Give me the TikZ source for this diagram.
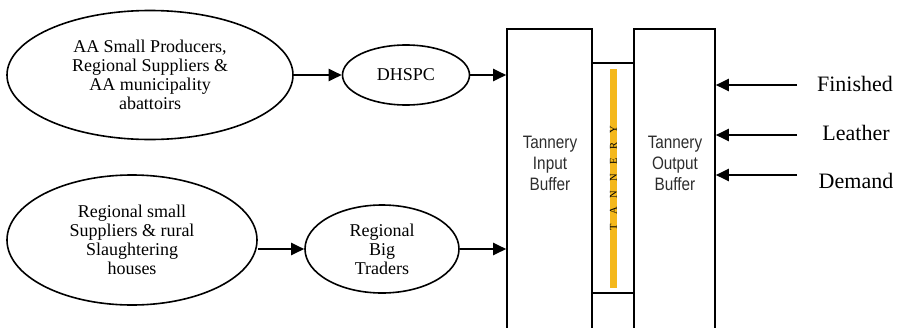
\documentclass[tikz,border=0pt]{standalone}
\usepackage{fontspec}
\setmainfont{Liberation Serif}
\newfontfamily\boxfont[FakeStretch=0.85]{Liberation Sans}
\usetikzlibrary{shapes.geometric,arrows.meta}
\definecolor{barorange}{RGB}{244,184,28}
\definecolor{boxtext}{RGB}{45,45,45}
\tikzset{
  srcell/.style={ellipse,draw,line width=1.6pt,inner sep=0pt,align=center,
    font=\fontsize{18}{19}\selectfont},
  bufbox/.style={rectangle,draw,line width=1.6pt,inner sep=0pt},
  buftext/.style={align=center,text=boxtext,font=\fontsize{18}{21}\boxfont},
  demandlbl/.style={font=\fontsize{22}{24}\selectfont},
  arr/.style={line width=2.4pt,-{Triangle[length=13pt,width=12pt]}},
}
\begin{document}
\begin{tikzpicture}[x=1pt,y=-1pt]
\useasboundingbox (0,0) rectangle (903,327);

% supplier ellipses
\node[srcell,minimum width=286,minimum height=129] (aa) at (150,75)
  {AA Small Producers,\\Regional Suppliers \&\\AA municipality\\abattoirs};
\node[srcell,minimum width=127,minimum height=60] (dh) at (406,75) {DHSPC};
\node[srcell,minimum width=250,minimum height=130] (rs) at (132,240)
  {Regional small\\Suppliers \& rural\\Slaughtering\\houses};
\node[srcell,minimum width=154,minimum height=88] (bt) at (382,249)
  {Regional\\Big\\Traders};

% tannery blocks
\node[bufbox,minimum width=85,minimum height=320] (inbuf) at (549.5,189) {};
\node[bufbox,minimum width=42,minimum height=230] (tan) at (613,178) {};
\node[bufbox,minimum width=81,minimum height=320] (outbuf) at (674.5,189) {};
\fill[barorange] (610,69) rectangle (617,288);
\node[rotate=90,font=\fontsize{10.5}{12}\selectfont,inner sep=0pt] (tanlbl) at (613.5,178)
  {T\hspace{9pt}A\hspace{9pt}N\hspace{9pt}N\hspace{9pt}E\hspace{9pt}R\hspace{9pt}Y};
\node[buftext] (inlbl) at (550,163) {Tannery\\Input\\Buffer};
\node[buftext] (outlbl) at (675,163) {Tannery\\Output\\Buffer};

% demand labels
\node[demandlbl] (fin) at (855,84) {Finished};
\node[demandlbl] (lea) at (856,133) {Leather};
\node[demandlbl] (dem) at (856,181) {Demand};
\coordinate (fs) at (797,85);
\coordinate (ls) at (797,135);
\coordinate (ds) at (797,175);

% flows
\draw[arr] (aa.east) -- (dh.west);
\draw[arr] (dh.east) -- (dh.east -| inbuf.west);
\draw[arr] (rs.east |- bt) -- (bt.west);
\draw[arr] (bt.east) -- (bt.east -| inbuf.west);
\draw[arr] (fs) -- (fs -| outbuf.east);
\draw[arr] (ls) -- (ls -| outbuf.east);
\draw[arr] (ds) -- (ds -| outbuf.east);
\end{tikzpicture}
\end{document}
